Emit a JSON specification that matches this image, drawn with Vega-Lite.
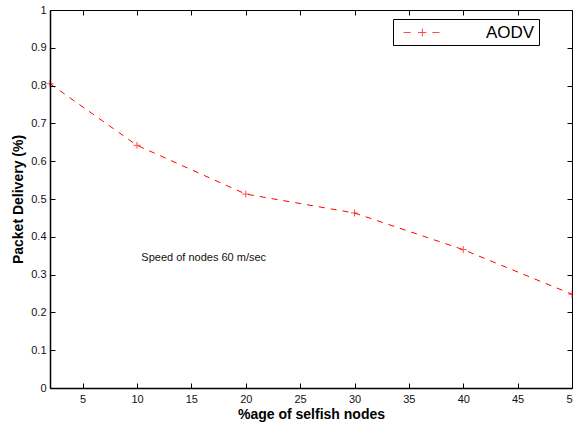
{
  "$schema": "https://vega.github.io/schema/vega-lite/v6.json",
  "width": 522,
  "height": 378,
  "autosize": "none",
  "padding": {"left": 50, "top": 10, "right": 1, "bottom": 35},
  "background": "white",
  "config": {
    "view": {"stroke": "black", "strokeWidth": 1},
    "font": "Liberation Sans",
    "axis": {
      "grid": false,
      "domainColor": "black",
      "tickColor": "black",
      "labelFont": "Liberation Sans",
      "labelFontSize": 11,
      "labelColor": "#111",
      "labelOverlap": false,
      "labelFlush": false,
      "titleFont": "Liberation Sans",
      "titleFontSize": 14,
      "titleFontWeight": "bold",
      "titleColor": "black"
    }
  },
  "data": {
    "values": [
      {"nodes": 2, "delivery": 0.805, "series": "AODV"},
      {"nodes": 10, "delivery": 0.642, "series": "AODV"},
      {"nodes": 20, "delivery": 0.513, "series": "AODV"},
      {"nodes": 30, "delivery": 0.463, "series": "AODV"},
      {"nodes": 40, "delivery": 0.366, "series": "AODV"},
      {"nodes": 50, "delivery": 0.248, "series": "AODV"}
    ]
  },
  "layer": [
    {
      "mark": {"type": "line", "color": "red", "strokeWidth": 1, "strokeDash": [6, 6]},
      "encoding": {
        "x": {"field": "nodes", "type": "quantitative", "scale": {"domain": [2, 50], "nice": false, "zero": false},
          "axis": {"values": [5, 10, 15, 20, 25, 30, 35, 40, 45, 50], "title": "%age of selfish nodes", "tickSize": -5, "labelPadding": 10, "titlePadding": 3, "domainWidth": 1.5, "zindex": 3}},
        "y": {"field": "delivery", "type": "quantitative", "scale": {"domain": [0, 1], "nice": false},
          "axis": {"values": [0, 0.1, 0.2, 0.3, 0.4, 0.5, 0.6, 0.7, 0.8, 0.9, 1], "format": "~g", "title": "Packet Delivery (%)", "tickSize": -5, "labelPadding": 9, "titlePadding": 5, "domainWidth": 1.5, "zindex": 3}}
      }
    },
    {
      "mark": {"type": "point", "shape": "M-1,0H1M0,-1V1", "filled": false, "size": 49, "strokeWidth": 1},
      "encoding": {
        "x": {"field": "nodes", "type": "quantitative", "axis": null},
        "y": {"field": "delivery", "type": "quantitative", "axis": null},
        "color": {"field": "series", "type": "nominal", "scale": {"range": ["red"]},
          "legend": {
            "title": null,
            "orient": "none",
            "legendX": 343,
            "legendY": 9,
            "padding": 4,
            "strokeColor": "black",
            "fillColor": "white",
            "symbolType": "M-2,0H-1.2M-0.4,0H0.4M1.2,0H2M0.1,-0.44V0.44M-0.34,0H0.54",
            "symbolSize": 324,
            "symbolStrokeWidth": 1,
            "symbolStrokeColor": "red",
            "symbolFillColor": "transparent",
            "symbolOffset": 15,
            "labelOffset": 55,
            "labelFont": "Liberation Sans",
            "labelFontSize": 17,
            "labelColor": "black"
          }}
      }
    },
    {
      "data": {"values": [{"nodes": 10.4, "delivery": 0.345, "note": "Speed of nodes 60 m/sec"}]},
      "mark": {"type": "text", "align": "left", "baseline": "middle", "fontSize": 11, "font": "Liberation Sans", "color": "#111"},
      "encoding": {
        "x": {"field": "nodes", "type": "quantitative", "axis": null},
        "y": {"field": "delivery", "type": "quantitative", "axis": null},
        "text": {"field": "note"}
      }
    },
    {
      "mark": {"type": "point", "opacity": 0},
      "encoding": {
        "x": {"field": "nodes", "type": "quantitative",
          "axis": {"orient": "top", "values": [5, 10, 15, 20, 25, 30, 35, 40, 45, 50], "labels": false, "title": null, "domain": false, "tickSize": -5, "zindex": 3}},
        "y": {"field": "delivery", "type": "quantitative",
          "axis": {"orient": "right", "values": [0.1, 0.2, 0.3, 0.4, 0.5, 0.6, 0.7, 0.8, 0.9], "labels": false, "title": null, "domain": false, "tickSize": -5, "zindex": 3}}
      }
    }
  ],
  "resolve": {"axis": {"x": "independent", "y": "independent"}}
}
